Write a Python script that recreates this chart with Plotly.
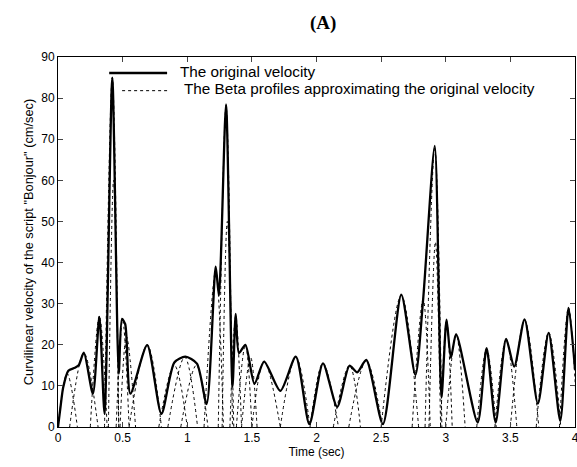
import plotly.graph_objects as go

# Original velocity (key points)
orig_t = [0, 0.02, 0.04, 0.08, 0.13, 0.16, 0.2, 0.27, 0.32, 0.36, 0.42, 0.47, 0.495, 0.52, 0.56,
          0.69, 0.80, 0.90, 0.985, 1.075, 1.15, 1.22, 1.245, 1.30, 1.35, 1.375, 1.40, 1.45, 1.52,
          1.595, 1.72, 1.84, 1.945, 2.05, 2.16, 2.255, 2.315, 2.385, 2.514, 2.656, 2.765, 2.825,
          2.915, 2.967, 3.006, 3.04, 3.08, 3.247, 3.316, 3.386, 3.467, 3.53, 3.61, 3.713, 3.796,
          3.886, 3.95, 4.0]
orig_v = [0, 5, 9.6, 13.7, 14.4, 15, 18.1, 8.1, 26.8, 3.2, 85, 13, 26.3, 25, 8.1,
          19.9, 3.2, 15.7, 17.1, 15.4, 5.6, 39, 32, 78.5, 9.8, 27.5, 18, 20, 10.5,
          15.9, 8.8, 17.1, 0.7, 15.5, 4.9, 14.9, 13.3, 16.3, 0.7, 32.2, 12.7, 31,
          68.4, 7.2, 26.1, 16.8, 22.6, 1.1, 19.2, 1.1, 21.4, 14.7, 26.2, 5.7, 22.9,
          1.5, 29, 14]

# Beta profiles: start time, peak time, peak value, end time
beta_t0 = [0.00, 0.09, 0.25, 0.36, 0.39, 0.45, 0.48, 0.55, 0.78, 0.85, 0.95, 1.13, 1.24, 1.27,
           1.33, 1.38, 1.42, 1.50, 1.72, 1.95, 2.13, 2.25, 2.50, 2.74, 2.84, 2.87, 2.96, 3.00,
           3.24, 3.38, 3.50, 3.70, 3.88]
beta_tp = [0.07, 0.20, 0.32, 0.42, 0.43, 0.50, 0.53, 0.69, 0.90, 0.98, 1.07, 1.22, 1.30, 1.31,
           1.375, 1.45, 1.49, 1.595, 1.84, 2.05, 2.255, 2.385, 2.656, 2.825, 2.915, 2.92, 3.006, 3.08,
           3.316, 3.467, 3.61, 3.796, 3.95]
beta_vp = [13, 18, 27, 85, 60, 26, 22, 20, 15, 17, 15, 38, 78, 50,
           27, 20, 17, 16, 17, 15.5, 15, 16, 32, 31, 68, 45, 26, 22.5,
           19, 21.4, 26, 23, 29]
beta_t1 = [0.15, 0.31, 0.38, 0.47, 0.47, 0.55, 0.60, 0.80, 1.00, 1.08, 1.16, 1.28, 1.35, 1.36,
           1.42, 1.50, 1.54, 1.72, 1.95, 2.17, 2.34, 2.51, 2.79, 2.88, 2.97, 2.96, 3.05, 3.15,
           3.39, 3.55, 3.72, 3.89, 4.02]

x_ticks = [0, 0.5, 1, 1.5, 2, 2.5, 3, 3.5, 4]
x_tick_text = ["0", "0.5", "1", "1.5", "2", "2.5", "3", "3.5", "4"]

bx, by = [], []
for a, p, v, b in zip(beta_t0, beta_tp, beta_vp, beta_t1):
    bx += [a, p, b, None]
    by += [0, v, 0, None]

fig = go.Figure()
fig.add_trace(go.Scatter(x=bx, y=by, mode="lines",
                         line=dict(color="black", width=1, dash="dot", shape="spline", smoothing=1.0),
                         showlegend=False, hoverinfo="skip"))
fig.add_trace(go.Scatter(x=orig_t, y=orig_v, mode="lines",
                         line=dict(color="black", width=2.3, shape="spline", smoothing=0.7),
                         showlegend=False))

font = "Liberation Sans, Arial, sans-serif"
# legend drawn manually
fig.add_shape(type="line", xref="paper", yref="paper", x0=0.099, x1=0.211, y0=0.957, y1=0.957,
              line=dict(color="black", width=2.5))
fig.add_shape(type="line", xref="paper", yref="paper", x0=0.124, x1=0.211, y0=0.909, y1=0.909,
              line=dict(color="black", width=1, dash="dot"))
fig.add_annotation(text="The original velocity", xref="paper", yref="paper", x=0.232, y=0.962,
                   xanchor="left", yanchor="middle", showarrow=False,
                   font=dict(family=font, size=15.3, color="black"))
fig.add_annotation(text="The Beta profiles approximating the original velocity", xref="paper", yref="paper",
                   x=0.240, y=0.914, xanchor="left", yanchor="middle", showarrow=False,
                   font=dict(family=font, size=15.3, color="black"))

fig.update_layout(
    width=577, height=467,
    margin=dict(l=58, r=2, t=57, b=40),
    paper_bgcolor="white", plot_bgcolor="white",
    title=dict(text="<b>(A)</b>", x=0.56, xanchor="center", y=0.952, yanchor="middle",
               font=dict(family="Liberation Serif, Times New Roman, serif", size=19, color="black")),
    font=dict(family=font, size=12, color="black"),
    xaxis=dict(range=[0, 4], tickvals=x_ticks, ticktext=x_tick_text, ticks="inside", ticklen=5,
               showline=True, linecolor="black", ticklabeloverflow="allow", automargin=False,
               linewidth=1, mirror="ticks", showgrid=False, zeroline=False,
               title=dict(text="Time (sec)", standoff=2, font=dict(size=12))),
    yaxis=dict(range=[0, 90], dtick=10, ticks="inside", ticklen=5, showline=True, linecolor="black",
               linewidth=1, mirror="ticks", showgrid=False, zeroline=False, automargin=False,
               title=dict(text='Curvilinear velocity of the script "Bonjour" (cm/sec)', standoff=4,
                          font=dict(size=12.8))),
)

fig.write_html("out.html")
